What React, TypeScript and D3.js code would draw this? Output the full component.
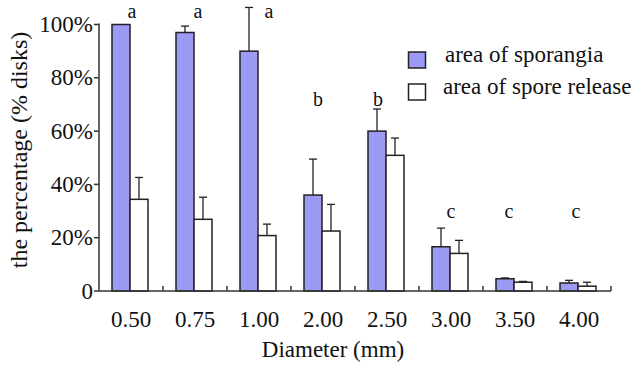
import React from "react";
import * as d3 from "d3";

const categories = ["0.50", "0.75", "1.00", "2.00", "2.50", "3.00", "3.50", "4.00"];
const sporangia = [100, 97, 90, 36, 60, 16.6, 4.6, 3.0];
const sporangiaErr = [0, 2.4, 16.4, 13.5, 8.3, 7, 0.3, 1.0];
const release = [34.4, 26.9, 20.8, 22.5, 50.9, 14.1, 3.3, 1.8];
const releaseErr = [8.2, 8.3, 4.3, 10, 6.5, 4.9, 0.3, 1.5];
const letters = ["a", "a", "a", "b", "b", "c", "c", "c"];
const letterValue = [102.4, 102.4, 102.4, 69.5, 69.5, 27.4, 27.4, 27.4];
const letterDx = [1, 3, 10, -5, -9, 0, -6, -3];
const yTicks = [0, 20, 40, 60, 80, 100];
const seriesNames = ["area of sporangia", "area of spore release"];

const FONT = "Liberation Serif";

function T(props: any) {
  const { style, ...rest } = props;
  return <text fill="#111" fontFamily={FONT} {...rest} style={{ fontFamily: `"${FONT}"`, ...(style || {}) }} />;
}

export default function App() {
  const W = 642, H = 367;
  const left = 99, right = 611, top = 24.5, bottom = 291;
  const x = d3.scaleBand<string>().domain(categories).range([left, right]).paddingInner(0).paddingOuter(0);
  const y = d3.scaleLinear().domain([0, 100]).range([bottom, top]);
  const bw = 18;
  const blue = "#9b9bf6";
  const stroke = "#222";
  const fs = 23;

  const bars: React.ReactNode[] = [];
  categories.forEach((c, i) => {
    const g0 = x(c)!;
    const cx = g0 + x.bandwidth() / 2;
    const bx = cx - bw - 1;
    const wx = cx - 1;
    const series = [
      { x0: bx, v: sporangia[i], e: sporangiaErr[i], fill: blue },
      { x0: wx, v: release[i], e: releaseErr[i], fill: "#fff" },
    ];
    series.forEach((s, k) => {
      bars.push(
        <rect key={`b${i}-${k}`} x={s.x0} y={y(s.v)} width={bw} height={bottom - y(s.v)}
          fill={s.fill} stroke={stroke} strokeWidth={1.5} />
      );
      if (s.e > 0) {
        const mx = s.x0 + bw / 2;
        bars.push(
          <g key={`e${i}-${k}`} stroke={stroke} strokeWidth={1.3}>
            <line x1={mx} x2={mx} y1={y(s.v)} y2={y(s.v + s.e)} />
            <line x1={mx - 4} x2={mx + 4} y1={y(s.v + s.e)} y2={y(s.v + s.e)} />
          </g>
        );
      }
    });
  });

  return (
    <svg width={W} height={H} style={{ display: "block", position: "absolute", left: 0, top: 0 }}>
      <rect width={W} height={H} fill="#fff" />
      {bars}
      <line x1={left} x2={left} y1={top - 1} y2={bottom} stroke="#333" strokeWidth={1.5} />
      <line x1={left} x2={right} y1={bottom} y2={bottom} stroke="#333" strokeWidth={1.5} />
      {yTicks.map((t) => (
        <g key={`yt${t}`}>
          <line x1={left - 5} x2={left} y1={y(t)} y2={y(t)} stroke="#333" strokeWidth={1.5} />
          <T x={left - 6} y={y(t)} dy="0.33em" textAnchor="end" fontSize={fs}>
            {t === 0 ? "0" : `${t}%`}
          </T>
        </g>
      ))}
      {categories.map((c, i) => (
        <g key={`xt${c}`}>
          <line x1={x(c)! + x.bandwidth()} x2={x(c)! + x.bandwidth()} y1={bottom - 5} y2={bottom}
            stroke="#333" strokeWidth={1.5} />
          <T x={x(c)! + x.bandwidth() / 2} y={327} textAnchor="middle" fontSize={fs}>{c}</T>
          <T x={x(c)! + x.bandwidth() / 2 + letterDx[i]} y={y(letterValue[i])} textAnchor="middle"
            fontSize={20}>{letters[i]}</T>
        </g>
      ))}
      <T x={333} y={357} textAnchor="middle" fontSize={fs}>Diameter (mm)</T>
      <T transform={`translate(27, 150) rotate(-90)`} textAnchor="middle"
        fontSize={24}>the percentage (% disks)</T>
      {seriesNames.map((n, k) => (
        <g key={n}>
          <rect x={408.5} y={52 + k * 32} width={17} height={16} fill={k === 0 ? blue : "#fff"}
            stroke={stroke} strokeWidth={1.5} />
          <T x={k === 0 ? 445 : 443} y={62 + k * 32} fontSize={fs}>{n}</T>
        </g>
      ))}
    </svg>
  );
}
